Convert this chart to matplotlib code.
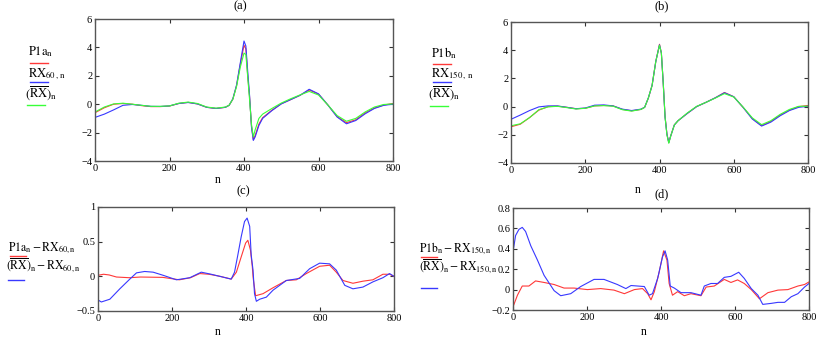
import numpy as np
import matplotlib
matplotlib.use('Agg')
import matplotlib.pyplot as plt
from matplotlib.lines import Line2D

plt.rcParams['font.family'] = ['Liberation Serif', 'DejaVu Serif']
plt.rcParams['mathtext.fontset'] = 'stix'

# ---- data ----
# panels (a) and (b): shared sample grid
n_ab = [0, 25, 50, 75, 100, 125, 150, 175, 200, 225, 250, 275, 300, 325, 350, 360,
        370, 380, 390, 400, 405, 410, 415, 420, 425, 430, 440, 450, 475, 500, 525,
        550, 575, 600, 625, 650, 675, 700, 725, 750, 775, 800]

p1a = [-0.6, -0.25, 0.0, 0.05, 0.0, -0.1, -0.17, -0.17, -0.13, 0.05, 0.13, 0.02, -0.22, -0.3,
       -0.22, -0.08, 0.35, 1.3, 2.8, 4.15, 3.9, 2.0, 0.5, -1.5, -2.5, -2.2, -1.4, -0.95, -0.42,
       0.03, 0.32, 0.62, 1.0, 0.71, -0.05, -0.88, -1.3, -1.1, -0.62, -0.27, -0.06, 0.05]
rx60 = [-0.93, -0.7, -0.4, -0.08, -0.02, -0.08, -0.15, -0.16, -0.12, 0.05, 0.12, 0.02, -0.22,
        -0.3, -0.22, -0.08, 0.38, 1.35, 2.9, 4.45, 4.1, 2.3, 0.6, -1.6, -2.55, -2.3, -1.5, -1.0,
        -0.45, 0.02, 0.32, 0.62, 1.05, 0.73, -0.05, -0.9, -1.38, -1.15, -0.68, -0.3, -0.08, 0.0]
rxbar_a = [-0.55, -0.2, 0.02, 0.07, 0.0, -0.08, -0.15, -0.15, -0.12, 0.07, 0.15, 0.05, -0.2,
           -0.28, -0.2, -0.07, 0.35, 1.25, 2.6, 3.6, 3.5, 1.9, 0.3, -1.4, -2.3, -1.8, -1.0,
           -0.7, -0.3, 0.08, 0.38, 0.65, 0.9, 0.65, -0.05, -0.8, -1.2, -1.0, -0.55, -0.2,
           -0.02, 0.02]

p1b = [-1.43, -1.25, -0.78, -0.25, 0.0, 0.03, -0.05, -0.15, -0.12, 0.05, 0.08, 0.05, -0.2,
       -0.3, -0.2, -0.05, 0.6, 1.5, 3.2, 4.42, 3.8, 1.7, -0.7, -1.95, -2.55, -2.1, -1.3, -1.0,
       -0.48, 0.0, 0.3, 0.62, 1.0, 0.7, -0.05, -0.85, -1.35, -1.05, -0.6, -0.25, 0.0, 0.08]
rx150 = [-0.9, -0.6, -0.28, -0.02, 0.05, 0.05, -0.05, -0.15, -0.1, 0.1, 0.12, 0.05, -0.18,
         -0.28, -0.18, -0.05, 0.62, 1.5, 3.2, 4.38, 3.8, 1.7, -0.75, -1.95, -2.55, -2.1, -1.3,
         -1.0, -0.48, 0.0, 0.3, 0.62, 0.98, 0.7, -0.05, -0.88, -1.38, -1.1, -0.65, -0.28,
         -0.05, 0.02]
rxbar_b = [-1.36, -1.22, -0.78, -0.22, -0.02, 0.02, -0.07, -0.17, -0.12, 0.05, 0.07, 0.03,
           -0.22, -0.32, -0.2, -0.05, 0.62, 1.5, 3.2, 4.35, 3.8, 1.7, -0.75, -2.0, -2.6, -2.1,
           -1.3, -1.0, -0.45, 0.02, 0.3, 0.6, 0.92, 0.68, -0.03, -0.8, -1.28, -1.0, -0.55,
           -0.2, 0.02, 0.03]

# panel (c): differences against RX60
n_c_red = [0, 15, 30, 50, 85, 115, 175, 220, 250, 275, 300, 330, 360, 374, 387, 399, 405,
           412, 417, 419, 420, 426, 446, 473, 509, 536, 563, 599, 626, 644, 662, 689, 716,
           743, 770, 788, 800]
c_red = [0.015, 0.03, 0.02, -0.01, -0.02, -0.01, -0.015, -0.05, -0.02, 0.04, 0.03, 0.0,
         -0.04, 0.06, 0.28, 0.48, 0.52, 0.38, 0.14, 0.0, -0.05, -0.28, -0.25, -0.165, -0.06,
         -0.05, 0.04, 0.145, 0.16, 0.06, -0.06, -0.1, -0.07, -0.05, 0.03, 0.03, 0.0]
n_c_blue = [0, 9, 32, 59, 86, 104, 126, 149, 176, 212, 248, 279, 306, 329, 360, 369, 378,
            387, 396, 403, 410, 414, 419, 423, 428, 437, 455, 473, 509, 545, 572, 599, 626,
            644, 667, 689, 716, 743, 770, 788, 800]
c_blue = [-0.34, -0.37, -0.33, -0.18, -0.04, 0.05, 0.07, 0.06, 0.015, -0.05, -0.02, 0.06,
          0.03, 0.0, -0.04, 0.06, 0.31, 0.57, 0.79, 0.84, 0.72, 0.31, 0.09, -0.25, -0.36,
          -0.33, -0.3, -0.2, -0.06, -0.03, 0.11, 0.19, 0.18, 0.09, -0.13, -0.18, -0.155,
          -0.08, -0.02, 0.04, 0.0]

# panel (d): differences against RX150
n_d_red = [0, 12, 25, 43, 61, 84, 111, 138, 165, 201, 237, 273, 301, 328, 350, 364, 373,
           382, 395, 407, 416, 422, 431, 445, 463, 481, 508, 522, 544, 571, 589, 607, 625,
           644, 666, 689, 716, 743, 770, 788, 800]
d_red = [-0.17, -0.055, 0.035, 0.035, 0.085, 0.07, 0.05, 0.015, 0.015, 0.0, 0.01, -0.005,
         -0.04, 0.0, 0.01, -0.04, -0.1, -0.02, 0.17, 0.38, 0.29, 0.06, -0.055, -0.02, -0.06,
         -0.04, -0.06, 0.025, 0.035, 0.1, 0.07, 0.095, 0.06, 0.0, -0.09, -0.03, -0.005, 0.0,
         0.035, 0.05, 0.075]
n_d_blue = [0, 7, 16, 25, 34, 48, 66, 84, 111, 129, 156, 183, 219, 246, 282, 305, 319, 337,
            355, 368, 377, 391, 404, 411, 418, 425, 436, 454, 481, 508, 517, 535, 553, 571,
            589, 610, 625, 644, 662, 675, 698, 716, 734, 752, 770, 788, 800]
d_blue = [0.37, 0.53, 0.59, 0.61, 0.57, 0.43, 0.29, 0.14, -0.01, -0.06, -0.04, 0.03, 0.1, 0.1,
          0.05, 0.01, 0.04, 0.035, 0.03, -0.055, -0.04, 0.11, 0.32, 0.38, 0.29, 0.035, 0.015,
          -0.03, -0.03, -0.055, 0.035, 0.06, 0.06, 0.12, 0.13, 0.17, 0.11, 0.01, -0.055,
          -0.145, -0.135, -0.125, -0.125, -0.07, -0.04, 0.025, 0.06]

x_ticks = [0, 200, 400, 600, 800]

RED = '#ff3838'
BLUE = '#3838ff'
GREEN = '#38ff38'

W, H = 830, 351
fig = plt.figure(figsize=(W / 100, H / 100), dpi=100)


def fx(px):
    return px / W


def fy(py):
    return 1 - py / H


def make_axes(l, t, r, b, ylim, yticks, ylabels):
    ax = fig.add_axes([fx(l), fy(b), (r - l) / W, (b - t) / H])
    ax.set_xlim(0, 800)
    ax.set_ylim(*ylim)
    ax.set_xticks(x_ticks)
    ax.set_yticks(yticks)
    ax.set_yticklabels(ylabels)
    ax.tick_params(direction='in', length=3, width=0.8, labelsize=7.5, pad=2,
                   top=True, right=True, colors='#333333', labelcolor='black')
    for s in ax.spines.values():
        s.set_color('#555555')
        s.set_linewidth(1.0)
    return ax


def legend_entry(x, ytext, yline, label, color, width=18, size=9):
    fig.text(fx(x), fy(ytext), label, fontsize=size, ha='left', va='center')
    fig.add_artist(Line2D([fx(x + 2), fx(x + 2 + width)], [fy(yline), fy(yline)],
                          color=color, lw=1.0, transform=fig.transFigure))


ab_ticks = [-4, -2, 0, 2, 4, 6]
ab_labels = ['\u22124', '\u22122', '0', '2', '4', '6']

# (a)
ax = make_axes(95, 19, 393, 161, (-4, 6), ab_ticks, ab_labels)
ax.plot(n_ab, p1a, color=RED, lw=0.8)
ax.plot(n_ab, rx60, color=BLUE, lw=0.8)
ax.plot(n_ab, rxbar_a, color=GREEN, lw=0.8)
fig.text(fx(240), fy(6), '(a)', fontsize=9, ha='center', va='center')
fig.text(fx(218), fy(180), 'n', fontsize=8.5, ha='center', va='center')
legend_entry(28, 52, 63, r'$\mathrm{P1a}_{\mathrm{n}}$', RED)
legend_entry(28, 74, 82, r'$\mathrm{RX}_{60\,,\,\mathrm{n}}$', BLUE)
legend_entry(25, 93, 105, r'$\left(\overline{\mathrm{RX}}\right)_{\mathrm{n}}$', GREEN)

# (b)
ax = make_axes(511, 22, 808, 163, (-4, 6), ab_ticks, ab_labels)
ax.plot(n_ab, p1b, color=RED, lw=0.8)
ax.plot(n_ab, rx150, color=BLUE, lw=0.8)
ax.plot(n_ab, rxbar_b, color=GREEN, lw=0.8)
fig.text(fx(662), fy(6), '(b)', fontsize=9, ha='center', va='center')
fig.text(fx(638), fy(190), 'n', fontsize=8.5, ha='center', va='center')
legend_entry(431, 53, 64, r'$\mathrm{P1b}_{\mathrm{n}}$', RED)
legend_entry(431, 74, 82, r'$\mathrm{RX}_{150\,,\,\mathrm{n}}$', BLUE)
legend_entry(428, 93, 106, r'$\left(\overline{\mathrm{RX}}\right)_{\mathrm{n}}$', GREEN)

# (c)
ax = make_axes(98, 207, 394, 311, (-0.5, 1), [-0.5, 0, 0.5, 1],
               ['\u22120.5', '0', '0.5', '1'])
ax.plot(n_c_red, c_red, color=RED, lw=0.8)
ax.plot(n_c_blue, c_blue, color=BLUE, lw=0.8)
fig.text(fx(243), fy(191), '(c)', fontsize=9, ha='center', va='center')
fig.text(fx(218), fy(332), 'n', fontsize=8.5, ha='center', va='center')
legend_entry(8, 248, 256, r'$\mathrm{P1a}_{\mathrm{n}} - \mathrm{RX}_{60,\mathrm{n}}$', RED, 16, 8.5)
legend_entry(6, 266, 280, r'$\left(\overline{\mathrm{RX}}\right)_{\mathrm{n}} - \mathrm{RX}_{60,\mathrm{n}}$', BLUE, 16, 8.5)

# (d)
ax = make_axes(513, 208, 809, 310, (-0.2, 0.8), [-0.2, 0, 0.2, 0.4, 0.6, 0.8],
               ['\u22120.2', '0', '0.2', '0.4', '0.6', '0.8'])
ax.plot(n_d_red, d_red, color=RED, lw=0.8)
ax.plot(n_d_blue, d_blue, color=BLUE, lw=0.8)
fig.text(fx(662), fy(194), '(d)', fontsize=9, ha='center', va='center')
fig.text(fx(644), fy(332), 'n', fontsize=8.5, ha='center', va='center')
legend_entry(419, 249, 257, r'$\mathrm{P1b}_{\mathrm{n}} - \mathrm{RX}_{150,\mathrm{n}}$', RED, 16, 8.5)
legend_entry(419, 267, 288, r'$\left(\overline{\mathrm{RX}}\right)_{\mathrm{n}} - \mathrm{RX}_{150,\mathrm{n}}$', BLUE, 16, 8.5)

fig.savefig('out.png', dpi=100)
